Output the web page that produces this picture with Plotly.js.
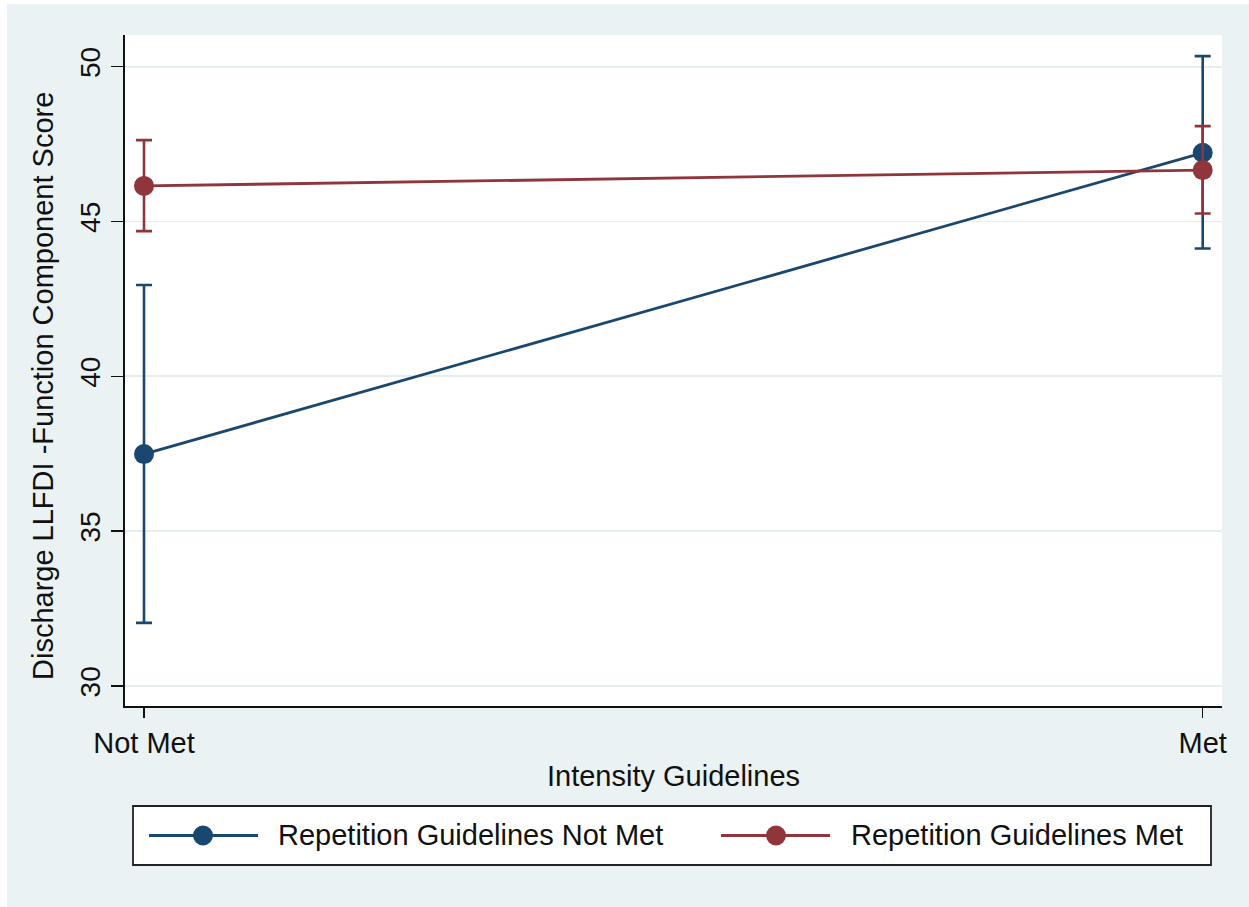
<!DOCTYPE html>
<html>
<head>
<meta charset="utf-8">
<script src="https://cdn.plot.ly/plotly-3.0.1.min.js"></script>
<style>html,body{margin:0;padding:0;background:#fff;}#chart{width:1249px;height:907px;}</style>
</head>
<body>
<div id="chart"></div>
<script>
// ---- data ----
const categories = ["Not Met", "Met"];                 // Intensity Guidelines
const seriesNames = ["Repetition Guidelines Not Met", "Repetition Guidelines Met"];
const notMetMean  = [37.49, 47.22];
const notMetLower = [32.04, 44.13];
const notMetUpper = [42.95, 50.34];
const metMean     = [46.15, 46.66];
const metLower    = [44.69, 45.26];
const metUpper    = [47.63, 48.08];
const yTickVals   = [30, 35, 40, 45, 50];
const yTitle = "Discharge LLFDI -Function Component Score";
const xTitle = "Intensity Guidelines";

// ---- style ----
const NAVY = "#1a476f", MAROON = "#90353b", BG = "#eaf2f3";
const FONT = "Liberation Sans, Arial, Helvetica, sans-serif";
const TXT = "#111111";

// plot area in pixels
const L = 125, R = 1222, T = 35, B = 706, W = 1249, H = 907;
const px = v => (v - L) / (R - L);
const py = v => (B - v) / (B - T);

const xIdx = categories.map((c, i) => i);

function series(mean, lo, hi, color, name) {
  return {
    type: "scatter", mode: "lines+markers", name: name,
    x: xIdx, y: mean,
    line: {color: color, width: 2.8},
    marker: {color: color, size: 20},
    error_y: {
      type: "data", symmetric: false,
      array: hi.map((h, i) => h - mean[i]),
      arrayminus: lo.map((l, i) => mean[i] - l),
      color: color, thickness: 2.6, width: 8
    },
    showlegend: false, hoverinfo: "skip", cliponaxis: false
  };
}

const traces = [
  series(notMetMean, notMetLower, notMetUpper, NAVY, seriesNames[0]),
  series(metMean, metLower, metUpper, MAROON, seriesNames[1])
];

// manual Stata-style legend
const legY = 835.5;
const legendItems = [
  {name: seriesNames[0], color: NAVY, l0: 149, l1: 258, m: 203, t: 276},
  {name: seriesNames[1], color: MAROON, l0: 721, l1: 830, m: 776, t: 849}
];
const shapes = [
  {type: "rect", xref: "paper", yref: "paper", x0: px(0), x1: px(W), y0: py(0), y1: py(4),
   fillcolor: "#ffffff", line: {width: 0}, layer: "below"},
  {type: "rect", xref: "paper", yref: "paper", x0: px(0), x1: px(7), y0: py(0), y1: py(H),
   fillcolor: "#ffffff", line: {width: 0}, layer: "below"},
  {type: "rect", xref: "paper", yref: "paper", x0: px(133), x1: px(1211), y0: py(806), y1: py(865),
   fillcolor: "#ffffff", line: {color: "#222222", width: 1.8}}
];
const annotations = [
  {xref: "paper", yref: "paper", x: px(43), y: py(386), text: yTitle, textangle: -90,
   showarrow: false, font: {family: FONT, size: 29, color: TXT}, xanchor: "center", yanchor: "middle"}
];
legendItems.forEach(it => {
  shapes.push({type: "line", xref: "paper", yref: "paper", x0: px(it.l0), x1: px(it.l1),
               y0: py(legY), y1: py(legY), line: {color: it.color, width: 2.8}});
  shapes.push({type: "circle", xref: "paper", yref: "paper", xsizemode: "pixel", ysizemode: "pixel",
               xanchor: px(it.m), yanchor: py(legY), x0: -10, x1: 10, y0: -10, y1: 10,
               fillcolor: it.color, line: {color: it.color, width: 0}});
  annotations.push({xref: "paper", yref: "paper", x: px(it.t), y: py(legY), text: it.name,
                    showarrow: false, xanchor: "left", yanchor: "middle",
                    font: {family: FONT, size: 29, color: TXT}});
});

const layout = {
  width: W, height: H,
  margin: {l: L, r: W - R, t: T, b: H - B, pad: 0},
  paper_bgcolor: BG, plot_bgcolor: "#ffffff",
  font: {family: FONT, color: TXT},
  showlegend: false,
  xaxis: {
    range: [-(144 - L) / 1058.7, 1 + (R - 1202.7) / 1058.7],
    tickvals: xIdx, ticktext: categories,
    showgrid: false, zeroline: false,
    showline: true, linecolor: "#111", linewidth: 1.8,
    ticks: "outside", ticklen: 10, tickwidth: 1.5, tickcolor: "#111",
    tickfont: {family: FONT, size: 29, color: TXT},
    title: {text: xTitle, font: {family: FONT, size: 29, color: TXT}, standoff: 8}
  },
  yaxis: {
    range: [30 - (B - 686) / 30.97, 50 + (66.7 - T) / 30.97],
    tickvals: yTickVals, tickangle: -90,
    showgrid: true, gridcolor: "#e6edef", gridwidth: 1.8,
    zeroline: false,
    showline: true, linecolor: "#111", linewidth: 1.8,
    ticks: "outside", ticklen: 12, tickwidth: 1.5, tickcolor: "#111",
    tickfont: {family: FONT, size: 28, color: TXT}
  },
  shapes: shapes,
  annotations: annotations
};

Plotly.newPlot("chart", traces, layout, {staticPlot: true, displayModeBar: false});
</script>
</body>
</html>
